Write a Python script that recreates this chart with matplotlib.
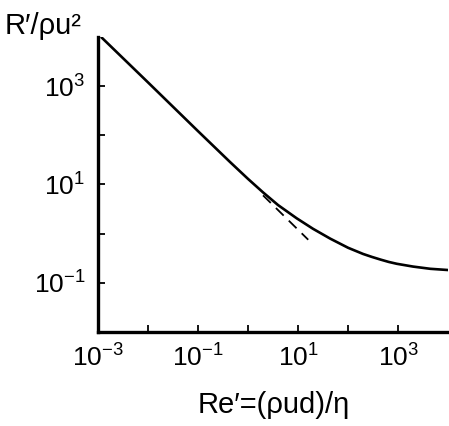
import numpy as np
import matplotlib
matplotlib.use("Agg")
import matplotlib.pyplot as plt

# =========================================
# DATA
# =========================================
re_curve = [1.2e-3, 1e-2, 1e-1, 0.44, 1, 2, 4, 9.4, 20, 44, 100, 200,
            300, 450, 650, 940, 2000, 4400, 9400]
r_curve = [9700, 1200, 122, 28.5, 13.0, 6.9, 3.8, 2.05, 1.25, 0.79, 0.515,
           0.385, 0.335, 0.295, 0.265, 0.243, 0.213, 0.192, 0.182]

re_stokes = [2.0, 16.0]
r_stokes = [6.0, 0.75]

xtick_vals = [1e-3, 1e-2, 1e-1, 1e0, 1e1, 1e2, 1e3]
xtick_labels = [r"$10^{-3}$", "", r"$10^{-1}$", "", r"$10^{1}$", "", r"$10^{3}$"]
ytick_vals = [1e-1, 1e0, 1e1, 1e2, 1e3]
ytick_labels = [r"$10^{-1}$", "", r"$10^{1}$", "", r"$10^{3}$"]

# =========================================
# PLOT
# =========================================
plt.rcParams.update({
    "font.family": "Liberation Sans",
    "mathtext.fontset": "custom",
    "mathtext.rm": "Liberation Sans",
    "mathtext.it": "Liberation Sans",
    "font.size": 19,
})

fig = plt.figure(figsize=(4.49, 4.26), dpi=100)
ax = fig.add_axes([0.218, 0.221, 0.78, 0.692])

ax.loglog(re_curve, r_curve, color="black", lw=1.9)
ax.loglog(re_stokes, r_stokes, color="black", lw=1.3, ls=(0, (6, 4)))

ax.set_xlim(1e-3, 1e4)
ax.set_ylim(1e-2, 1e4)

ax.set_xticks(xtick_vals)
ax.set_xticklabels(xtick_labels)
ax.set_yticks(ytick_vals)
ax.set_yticklabels(ytick_labels)
ax.minorticks_off()
ax.tick_params(direction="in", length=5, width=1.3, pad=9, labelsize=19)

for side in ["top", "right"]:
    ax.spines[side].set_visible(False)
for side in ["left", "bottom"]:
    ax.spines[side].set_linewidth(2.4)

fig.text(0.01, 1 - 34 / 426, "R\u2032/\u03c1u\u00b2", fontsize=21,
         ha="left", va="baseline")
fig.text(0.61, 1 - 413 / 426, "Re\u2032=(\u03c1ud)/\u03b7", fontsize=21,
         ha="center", va="baseline")

plt.savefig("out.png", dpi=100)
